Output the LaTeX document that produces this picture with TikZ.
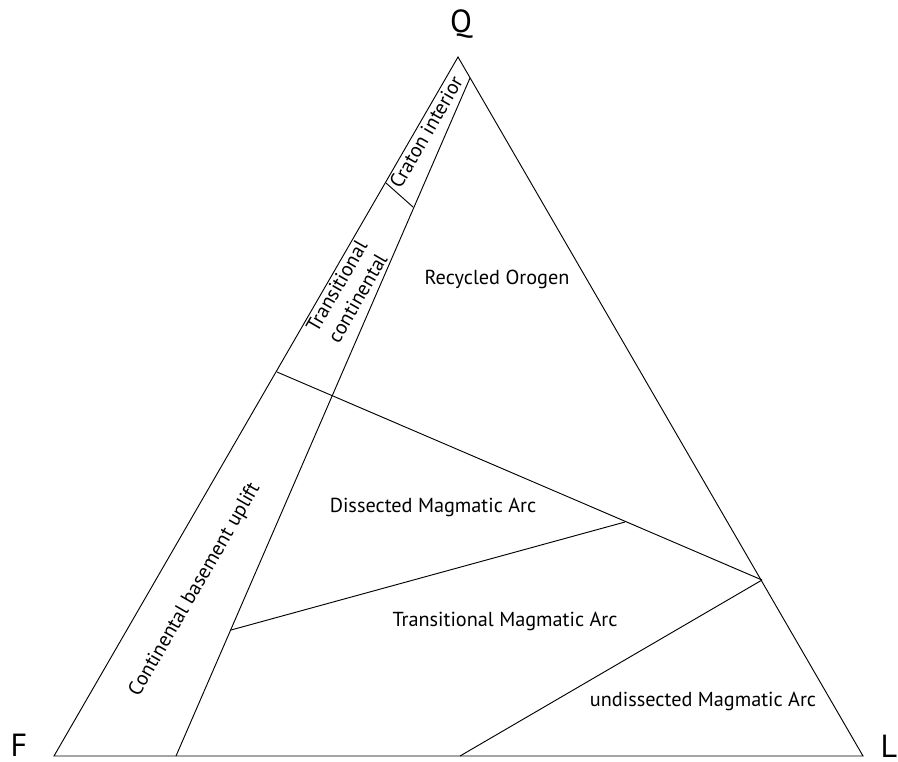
\documentclass[tikz,border=0pt]{standalone}
\usepackage{fontspec}
\setsansfont{PT Sans}
\usetikzlibrary{positioning}
\newcommand{\fieldfont}{\sffamily\fontsize{15.2}{18}\selectfont}
\newcommand{\apexfont}{\sffamily\fontsize{24}{28}\selectfont}

\begin{document}
\begin{tikzpicture}[x=0.75pt, y=-0.75pt, field/.style={font=\fieldfont, inner sep=0pt}, apex/.style={font=\apexfont, inner sep=0pt}, edge/.style={line width=0.7pt, line join=miter}]
    \useasboundingbox (0,0) rectangle (898,761);
    % apices of the QFL triangle
    \coordinate (Q) at (458,57);
    \coordinate (F) at (54,756);
    \coordinate (L) at (863,756);
    % field boundaries
    \coordinate (ci1) at (470,78);
    \coordinate (ci2) at (176,756);
    \coordinate (cr1) at (386,183);
    \coordinate (cr2) at (413,207);
    \coordinate (tc1) at (277,372);
    \coordinate (tc2) at (762,580);
    \coordinate (dm1) at (231,630);
    \coordinate (dm2) at (625,522);
    \coordinate (um1) at (460,756);

    \draw[edge] (Q) -- (F) -- (L) -- cycle;
    \draw[edge] (ci1) -- (ci2);
    \draw[edge] (cr1) -- (cr2);
    \draw[edge] (tc1) -- (tc2);
    \draw[edge] (dm1) -- (dm2);
    \draw[edge] (tc2) -- (um1);

    \node[apex] (Qlab) at (461,24) {Q};
    \node[apex] (Flab) at (19,745) {F};
    \node[apex] (Llab) at (889,746) {L};

    \node[field, rotate=60] (craton) at (426,132) {Craton interior};
    \node[field, rotate=60, align=center] (transcont) at (347,292) {Transitional\\continental};
    \node[field] (recycled) at (497,279) {Recycled Orogen};
    \node[field, rotate=60] (basement) at (195,590) {Continental basement uplift};
    \node[field] (dissected) at (433,507) {Dissected Magmatic Arc};
    \node[field] (transarc) at (505,621) {Transitional Magmatic Arc};
    \node[field] (undissected) at (703,701) {undissected Magmatic Arc};
\end{tikzpicture}
\end{document}
